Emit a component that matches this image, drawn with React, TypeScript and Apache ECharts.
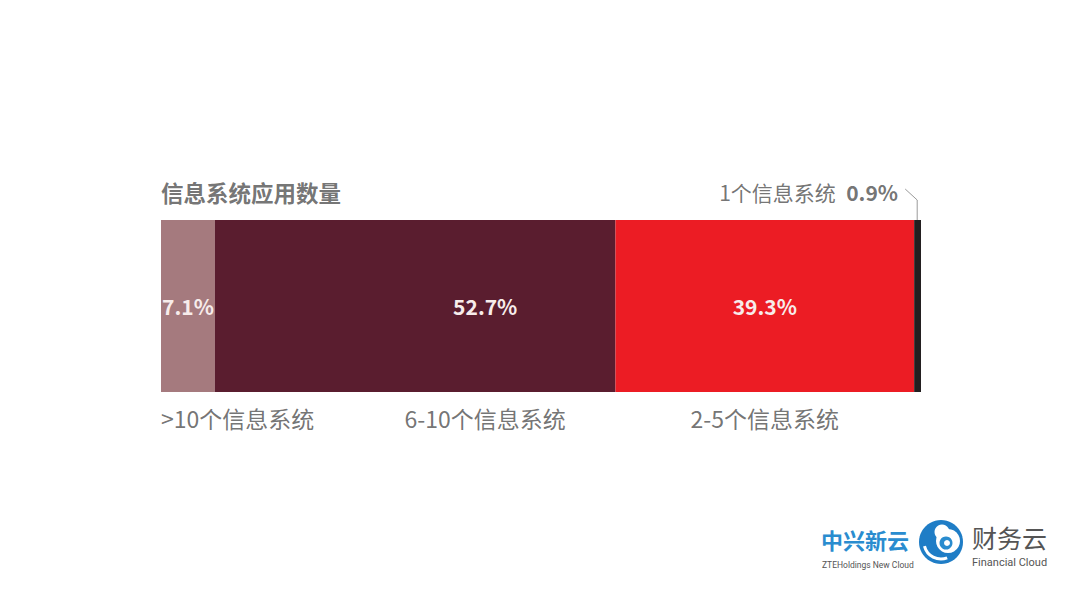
import React, { useEffect, useRef } from "react";
import * as echarts from "echarts";

const categories = ["信息系统应用数量"];
const segmentNames = [">10个信息系统", "6-10个信息系统", "2-5个信息系统", "1个信息系统"];
const segmentValues = [7.1, 52.7, 39.3, 0.9];
const segmentColors = ["#a57a7e", "#5a1d2f", "#ec1c24", "#231f20"];
const titleText = "信息系统应用数量";

const FONT = "'Noto Sans CJK SC', 'Noto Sans', sans-serif";

export default function App() {
  const ref = useRef<HTMLDivElement>(null);
  useEffect(() => {
    if (!ref.current) return;
    const chart = echarts.init(ref.current, undefined, { renderer: "svg" });

    const starts: number[] = [];
    let acc = 0;
    segmentValues.forEach((v) => {
      starts.push(acc);
      acc += v;
    });
    const mids = segmentValues.map((v, i) => starts[i] + v / 2);
    const pctOffsets = [0, 70, 0, 0];

    const barSeries: any[] = segmentValues.slice(0, 3).map((v, i) => ({
      type: "bar",
      name: segmentNames[i],
      stack: "total",
      barWidth: 172,
      itemStyle: { color: segmentColors[i] },
      label: {
        show: true,
        position: "inside",
        offset: [pctOffsets[i], 0],
        formatter: () => v.toFixed(1) + "%",
        color: "#f7eceb",
        fontSize: 21,
        fontWeight: "bold",
        fontFamily: FONT,
      },
      data: [v],
    }));
    barSeries.push({
      type: "bar",
      name: segmentNames[3],
      stack: "total",
      barWidth: 172,
      itemStyle: { color: segmentColors[3] },
      label: { show: false },
      data: [segmentValues[3]],
    });

    const nameLabel = (
      x: number,
      text: string,
      align: string,
      dx: number,
      dy: number,
      extra: any = {}
    ) => ({
      value: [x, categories[0]],
      label: {
        show: true,
        position: "inside",
        formatter: text,
        align,
        verticalAlign: "middle",
        offset: [dx, dy],
        color: "#505050",
        fontSize: 23,
        fontFamily: FONT,
        ...extra,
      },
    });

    const scatterData = [
      nameLabel(starts[0], segmentNames[0], "left", 0, 112),
      nameLabel(mids[1], segmentNames[1], "center", pctOffsets[1], 112),
      nameLabel(mids[2], segmentNames[2], "center", 0, 112),
      nameLabel(0, titleText, "left", 0, -114, { fontWeight: "bold", fontSize: 22.5 }),
      nameLabel(100, "{n|" + segmentNames[3] + "}  {p|" + segmentValues[3].toFixed(1) + "%}", "right", -23, -114, {
        rich: {
          n: { fontSize: 21, color: "#505050", fontFamily: FONT },
          p: { fontSize: 21, color: "#505050", fontWeight: "bold", fontFamily: FONT },
        },
      }),
    ];

    chart.setOption({
      animation: false,
      backgroundColor: "#ffffff",
      grid: { left: 161, right: 159, top: 220, height: 172 },
      xAxis: { type: "value", min: 0, max: 100, show: false },
      yAxis: { type: "category", data: categories, show: false },
      series: [
        ...barSeries,
        {
          type: "scatter",
          symbolSize: 0,
          silent: true,
          data: scatterData,
          z: 10,
        },
      ],
    });

    const lineX = starts[3] + segmentValues[3] / 2 - 0.05;
    const p0 = chart.convertToPixel({ gridIndex: 0 }, [lineX, 0]) as number[];
    const barTop = 220;

    chart.setOption({
      graphic: [
        {
          type: "polyline",
          shape: {
            points: [
              [p0[0], barTop],
              [p0[0], barTop - 20],
              [p0[0] - 12, barTop - 31],
            ],
          },
          style: { stroke: "#9a9a9a", lineWidth: 1, fill: "none" },
        },
        {
          type: "text",
          left: 821,
          top: 528,
          style: { text: "中兴新云", fontSize: 22, fontWeight: "bold", fill: "#2a8ccf", fontFamily: FONT },
        },
        {
          type: "text",
          left: 822,
          top: 560,
          style: { text: "ZTEHoldings New Cloud", fontSize: 8.5, fill: "#555555", fontFamily: "Roboto, sans-serif" },
        },
        {
          type: "circle",
          shape: { cx: 941, cy: 542, r: 22 },
          style: { fill: "#1f7dc6" },
        },
        {
          type: "arc",
          shape: { cx: 941, cy: 542, r: 17, startAngle: 1.2, endAngle: 2.9 },
          style: { stroke: "#ffffff", lineWidth: 3, fill: "none" },
        },
        {
          type: "circle",
          shape: { cx: 948, cy: 541, r: 12 },
          style: { fill: "#ffffff" },
        },
        {
          type: "circle",
          shape: { cx: 942, cy: 532, r: 7.5 },
          style: { fill: "#ffffff" },
        },
        {
          type: "circle",
          shape: { cx: 946, cy: 543, r: 6.5 },
          style: { fill: "#2a8ccf" },
        },
        {
          type: "circle",
          shape: { cx: 947, cy: 543, r: 3 },
          style: { fill: "#ffffff" },
        },
        {
          type: "text",
          left: 972,
          top: 524,
          style: { text: "财务云", fontSize: 25, fill: "#555555", fontFamily: FONT },
        },
        {
          type: "text",
          left: 972,
          top: 557,
          style: { text: "Financial Cloud", fontSize: 11, fill: "#555555", fontFamily: "Roboto, sans-serif" },
        },
      ],
    });

    return () => chart.dispose();
  }, []);

  return (
    <div
      ref={ref}
      style={{ position: "absolute", left: 0, top: 0, width: 1080, height: 607, background: "#fff" }}
    />
  );
}
